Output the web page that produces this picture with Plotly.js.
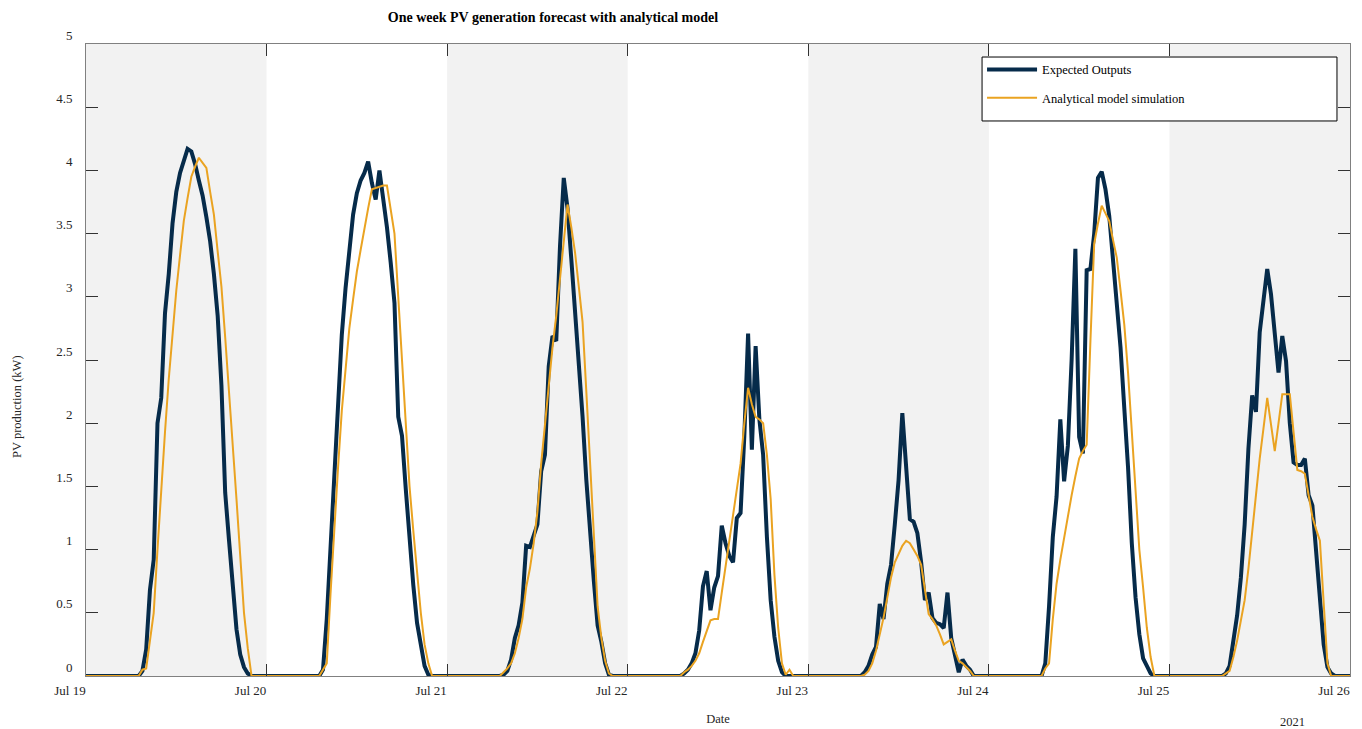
<!DOCTYPE html>
<html>
<head>
<meta charset="utf-8">
<script src="https://cdn.plot.ly/plotly-3.0.1.min.js"></script>
<style>html,body{margin:0;padding:0;background:#fff;}</style>
</head>
<body>
<div id="chart" style="width:1362px;height:729px;"></div>
<script>
// ---- data ----
const dayDates = ['2021-07-19','2021-07-20','2021-07-21','2021-07-22','2021-07-23','2021-07-24','2021-07-25','2021-07-26'];
const dayLabels = ['Jul 19','Jul 20','Jul 21','Jul 22','Jul 23','Jul 24','Jul 25','Jul 26'];
const firstHour = 7;      // first sample of each day (h)
const stepHours = 0.5;    // sampling interval (h)

// Expected Outputs (kW), 07:00 .. 22:00 every 30 min
const expJul19 = [0,0.04,0.21,0.68,0.92,2.0,2.2,2.87,3.18,3.58,3.83,3.98,4.08,4.17,4.15,4.05,3.92,3.8,3.63,3.44,3.18,2.85,2.3,1.45,1.08,0.75,0.37,0.17,0.07,0.02,0];
const expJul20 = [0,0.05,0.45,1.05,1.65,2.2,2.7,3.07,3.4,3.65,3.82,3.92,3.98,4.07,3.9,3.77,4.0,3.78,3.55,3.27,2.95,2.05,1.9,1.48,1.05,0.72,0.42,0.25,0.08,0.01,0];
const expJul21 = [0,0.01,0.04,0.13,0.3,0.4,0.58,1.03,1.02,1.1,1.2,1.62,1.75,2.45,2.69,2.65,3.4,3.94,3.7,3.3,2.9,2.5,2.05,1.55,1.1,0.75,0.4,0.27,0.1,0.01,0];
const expJul22 = [0,0.02,0.05,0.1,0.18,0.36,0.71,0.83,0.52,0.7,0.79,1.19,1.05,0.95,0.9,1.25,1.29,1.9,2.71,1.79,2.61,2.03,1.75,1.1,0.6,0.31,0.12,0.03,0,0,0];
const expJul23 = [0,0.03,0.08,0.17,0.23,0.57,0.45,0.73,0.88,1.2,1.55,2.08,1.62,1.24,1.22,1.13,0.9,0.6,0.66,0.46,0.42,0.41,0.38,0.66,0.3,0.15,0.03,0.13,0.08,0.05,0];
const expJul24 = [0,0.1,0.55,1.1,1.42,2.03,1.54,1.82,2.5,3.38,1.89,1.76,3.21,3.22,3.5,3.94,3.99,3.85,3.64,3.32,2.97,2.6,2.12,1.65,1.05,0.62,0.33,0.14,0.08,0.02,0];
const expJul25 = [0,0.02,0.08,0.28,0.48,0.78,1.2,1.8,2.22,2.09,2.72,2.97,3.22,3.02,2.68,2.4,2.69,2.49,2.0,1.69,1.67,1.67,1.72,1.43,1.35,1.0,0.6,0.25,0.07,0.02,0];

// Analytical model simulation (kW), same timestamps
const simJul19 = [0,0.05,0.06,0.28,0.5,1.0,1.5,1.93,2.35,2.7,3.05,3.33,3.6,3.78,3.95,4.03,4.1,4.06,4.02,3.83,3.65,3.36,3.08,2.68,2.28,1.84,1.4,0.95,0.5,0.22,0];
const simJul20 = [0,0.05,0.1,0.65,1.2,1.65,2.1,2.43,2.75,2.98,3.2,3.37,3.55,3.7,3.85,3.86,3.87,3.88,3.88,3.7,3.5,3.0,2.5,2.0,1.5,1.15,0.8,0.5,0.25,0.1,0];
const simJul21 = [0,0.03,0.06,0.1,0.18,0.3,0.45,0.7,0.85,1.05,1.3,1.68,2.0,2.3,2.6,2.85,3.15,3.45,3.73,3.55,3.35,3.08,2.8,2.25,1.65,1.1,0.55,0.3,0.12,0.02,0];
const simJul22 = [0,0.03,0.05,0.08,0.12,0.18,0.27,0.36,0.44,0.45,0.45,0.66,0.87,1.07,1.26,1.47,1.68,2.0,2.28,2.15,2.05,2.03,2.0,1.75,1.4,0.8,0.38,0.1,0.01,0.05,0];
const simJul23 = [0,0.01,0.04,0.1,0.2,0.33,0.46,0.62,0.78,0.9,0.97,1.03,1.07,1.05,1.0,0.95,0.88,0.68,0.49,0.45,0.4,0.33,0.25,0.27,0.29,0.2,0.12,0.1,0.07,0.04,0];
const simJul24 = [0,0.06,0.1,0.45,0.73,0.92,1.1,1.27,1.43,1.58,1.72,1.78,1.83,2.65,3.42,3.58,3.72,3.66,3.6,3.45,3.31,3.05,2.78,2.4,1.95,1.45,1.0,0.7,0.38,0.15,0];
const simJul25 = [0,0.02,0.04,0.15,0.28,0.44,0.6,0.85,1.15,1.45,1.72,1.96,2.2,1.99,1.78,2.0,2.23,2.23,2.23,1.93,1.63,1.62,1.6,1.43,1.26,1.16,1.07,0.58,0.1,0,0];

const nightValue = 0; // production at the start / end of the week

// ---- build series ----
const expDays = [expJul19, expJul20, expJul21, expJul22, expJul23, expJul24, expJul25];
const simDays = [simJul19, simJul20, simJul21, simJul22, simJul23, simJul24, simJul25];
function pad(n){ return (n < 10 ? '0' : '') + n; }
function stamp(day, hour){
  const hh = Math.floor(hour), mm = Math.round((hour - hh) * 60);
  return dayDates[day] + ' ' + pad(hh) + ':' + pad(mm);
}
function buildSeries(days){
  const xs = [dayDates[0] + ' 00:00'], ys = [nightValue];
  days.forEach((vals, d) => {
    vals.forEach((v, i) => { xs.push(stamp(d, firstHour + i * stepHours)); ys.push(v); });
  });
  xs.push(dayDates[7] + ' 00:00'); ys.push(nightValue);
  return {xs, ys};
}
const E = buildSeries(expDays), S = buildSeries(simDays);

const traces = [
  {x: E.xs, y: E.ys, type: 'scatter', mode: 'lines', name: 'Expected Outputs', legendgroup: 'g1',
   line: {color: '#062b4a', width: 4}},
  {x: S.xs, y: S.ys, type: 'scatter', mode: 'lines', name: 'Analytical model simulation', legendgroup: 'g2',
   line: {color: '#eaa321', width: 2}}
];

// shaded day bands
const shapes = [];
for (let d = 0; d < 7; d += 2) {
  shapes.push({type: 'rect', xref: 'x', yref: 'paper', x0: dayDates[d], x1: dayDates[d + 1], y0: 0, y1: 1,
               fillcolor: '#f2f2f2', line: {width: 0}, layer: 'below'});
}
// legend box
shapes.push({type: 'rect', xref: 'paper', yref: 'paper', x0: 0.7089, x1: 0.9897, y0: 0.8782, y1: 0.9794,
             fillcolor: '#ffffff', line: {color: '#000000', width: 1}, layer: 'above'});

const axisCommon = {
  ticks: 'inside', ticklen: 12, tickwidth: 1, tickcolor: '#333333',
  showline: true, linecolor: '#808080', linewidth: 1, mirror: 'ticks',
  showgrid: false, zeroline: false,
  tickfont: {family: 'Liberation Serif', size: 13, color: '#262626'}
};

const layout = {
  width: 1362, height: 729,
  margin: {l: 86, r: 12, t: 44, b: 53},
  paper_bgcolor: '#ffffff', plot_bgcolor: '#ffffff',
  font: {family: 'Liberation Serif', size: 13, color: '#262626'},
  title: {text: 'One week PV generation forecast with analytical model',
          font: {family: 'Liberation Serif', size: 14, weight: 'bold', color: '#000000'},
          x: 0.406, xref: 'container', xanchor: 'center', y: 0.977, yref: 'container', yanchor: 'middle'},
  xaxis: Object.assign({}, axisCommon, {
    type: 'date', range: [dayDates[0], dayDates[7]],
    tickmode: 'array', tickvals: dayDates, ticktext: dayLabels,
    ticklabelshift: -16, ticklabelstandoff: 2,
    title: {text: 'Date', font: {family: 'Liberation Serif', size: 12.5, color: '#262626'}, standoff: 17}
  }),
  yaxis: Object.assign({}, axisCommon, {
    range: [0, 5], tick0: 0, dtick: 0.5,
    ticklabelshift: -9, ticklabelstandoff: 10
  }),
  showlegend: true,
  legend: {x: 0.7089, xanchor: 'left', y: 0.9826, yanchor: 'top', bgcolor: 'rgba(0,0,0,0)', borderwidth: 0,
           font: {family: 'Liberation Serif', size: 12.5, color: '#000000'},
           itemwidth: 50, tracegroupgap: 9, traceorder: 'grouped'},
  shapes: shapes,
  annotations: [
    {text: 'PV production (kW)', xref: 'paper', yref: 'paper', x: -0.0546, y: 0.4272, textangle: -90,
     xanchor: 'center', yanchor: 'middle', showarrow: false,
     font: {family: 'Liberation Serif', size: 12.5, color: '#262626'}},
    {text: '2021', xref: 'paper', yref: 'paper', x: 0.9549, y: -0.0728, xanchor: 'center', yanchor: 'middle',
     showarrow: false, font: {family: 'Liberation Serif', size: 12.5, color: '#262626'}}
  ]
};

Plotly.newPlot('chart', traces, layout, {displayModeBar: false, staticPlot: true});
</script>
</body>
</html>
